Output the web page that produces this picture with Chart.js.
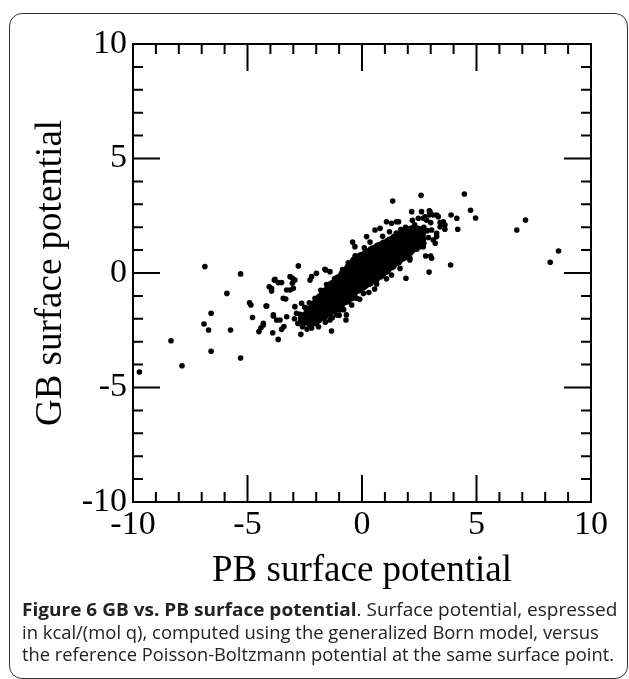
<!DOCTYPE html>
<html>
<head>
<meta charset="utf-8">
<script src="https://cdn.jsdelivr.net/npm/chart.js@4.4.1/dist/chart.umd.min.js"></script>
<style>
  body { margin: 0; background: #fff; }
  #page { position: relative; width: 629px; height: 679px; overflow: hidden; background: #fff; }
  #frame { position: absolute; left: 9px; top: 13px; width: 617px; height: 664px; border: 1.5px solid #333; border-radius: 13px; }
  #chart { position: absolute; left: 0; top: 0; }
  #caption { position: absolute; left: 22px; top: 598px; font-family: 'Open Sans', sans-serif; font-size: 18px; line-height: 22.5px; color: #222; }
  #caption div { white-space: nowrap; transform-origin: left center; width: max-content; }
</style>
</head>
<body>
<div id="page">
  <div id="frame"></div>
  <canvas id="chart" width="629" height="610"></canvas>
  <div id="caption">
    <div data-w="595"><b>Figure 6 GB vs. PB surface potential</b>. Surface potential, espressed</div>
    <div data-w="577">in kcal/(mol q), computed using the generalized Born model, versus</div>
    <div data-w="592">the reference Poisson-Boltzmann potential at the same surface point.</div>
  </div>
</div>
<script>
const axisMin = -10;
const axisMax = 10;
const majorTicks = [-10, -5, 0, 5, 10];
const minorTicks = [-9, -8, -7, -6, -4, -3, -2, -1, 1, 2, 3, 4, 6, 7, 8, 9];
const xTitle = 'PB surface potential';
const yTitle = 'GB surface potential';

// dense, saturated middle of the cloud: [PB, GB]
const corePoints = [
  [-2.5, -2.0],
  [-2.25, -2.05], [-2.25, -1.7],
  [-2.0, -1.95], [-2.0, -1.7], [-2.0, -1.45],
  [-1.75, -1.8], [-1.75, -1.47], [-1.75, -1.15],
  [-1.5, -1.65], [-1.5, -1.25], [-1.5, -0.88],
  [-1.25, -1.48], [-1.25, -1.03], [-1.25, -0.6],
  [-1.0, -1.3], [-1.0, -0.82], [-1.0, -0.35],
  [-0.75, -1.1], [-0.75, -0.61], [-0.75, -0.12],
  [-0.5, -0.95], [-0.5, -0.4], [-0.5, 0.15],
  [-0.25, -0.62], [-0.25, -0.08], [-0.25, 0.46],
  [0, -0.48], [0, 0.07], [0, 0.62],
  [0.25, -0.33], [0.25, 0.22], [0.25, 0.77],
  [0.5, -0.2], [0.5, 0.36], [0.5, 0.92],
  [0.75, 0.0], [0.75, 0.52], [0.75, 1.05],
  [1.0, 0.2], [1.0, 0.69], [1.0, 1.17],
  [1.25, 0.4], [1.25, 0.86], [1.25, 1.3],
  [1.5, 0.6], [1.5, 1.02], [1.5, 1.45],
  [1.75, 0.8], [1.75, 1.2], [1.75, 1.6],
  [2.0, 1.0], [2.0, 1.37], [2.0, 1.75],
  [2.25, 1.2], [2.25, 1.5], [2.25, 1.8],
  [2.5, 1.45], [2.5, 1.75],
];

// individual surface points around the core and the outliers: [PB, GB]
const scatterPoints = [
  [1.34, 3.14], [2.58, 3.39], [4.47, 3.45], [4.74, 2.74], [4.96, 2.4], [3.89, 2.53], [4.14, 2.39],
  [4.18, 1.91], [7.14, 2.31], [6.76, 1.88], [8.58, 0.96], [8.22, 0.47], [3.87, 0.35], [2.93, 0.04],
  [1.92, -0.23], [2.78, 0.74], [3.0, 0.74], [3.04, 0.64], [3.62, 2.1], [3.62, 1.91], [3.41, 2.2],
  [3.26, 2.53], [2.94, 2.72], [2.6, 2.68], [2.17, 2.68], [2.94, 2.53], [2.68, 2.39], [2.46, 2.39],
  [1.6, 2.24], [2.09, 0.64], [2.53, 1.15], [2.68, 1.15], [3.11, 1.44], [3.26, 1.73], [3.04, 1.88],
  [-6.86, 0.28], [-5.3, -0.04], [-5.9, -0.89], [-6.59, -1.76], [-6.9, -2.23], [-6.7, -2.49],
  [-5.74, -2.49], [-8.34, -2.96], [-6.59, -3.42], [-5.3, -3.71], [-7.86, -4.05], [-9.72, -4.32],
  [-4.91, -1.3], [-4.85, -1.4], [-4.78, -1.94], [-4.5, -2.56], [-4.41, -2.39], [-4.31, -2.27],
  [-4.19, -1.44], [-4.05, -0.6], [-3.95, -0.79], [-3.83, -0.31], [-3.66, -0.42], [-3.51, -0.42],
  [-3.87, -1.88], [-3.73, -2.05], [-3.66, -2.9], [-3.9, -2.61], [-3.51, -2.46], [-3.41, -2.34],
  [-3.29, -1.91], [-3.33, -1.14], [-3.14, -0.74], [-3.04, -0.45], [-2.78, 0.31], [-2.67, -2.68],
  [-1.33, -2.53], [-0.7, -2.05], [-3.14, -0.16], [-2.93, -0.31], [-2.2, -0.16], [-1.99, -0.01],
  [-1.58, 0.13], [-0.41, 1.35], [-0.31, 1.15], [2.97, 2.68], [3.11, 2.53], [3.33, 2.46], [3.55, 2.24],
  [0.64, -0.48], [1.07, -0.25], [0.06, -0.89], [-0.23, -1.1], [-0.59, -1.25], [-0.68, -1.83],
  [-0.96, -1.62], [-1.11, -1.83], [-1.4, -2.05], [-1.76, -1.91], [-2.05, -2.2], [-2.27, -2.27],
  [-3.8, -0.28], [-3.03, -0.23], [-3.95, -0.67], [-3.29, -0.74], [-3.0, -0.67], [-3.44, -1.1],
  [-4.16, -1.44], [-4.31, -2.2], [-3.87, -1.83], [-3.58, -2.05], [-2.86, -1.76], [-2.93, -1.47],
  [-2.64, -1.32], [-2.27, -0.31], [-1.62, 0.16], [-1.4, 0.06], [1.07, 2.24], [1.29, 2.17],
  [1.51, 2.24], [0.79, 1.95], [0.57, 1.88], [0.2, 1.59], [1.66, 0.2], [1.29, -0.09], [2.09, 0.57],
  [2.82, 2.31], [3.26, 1.59], [3.41, 2.02], [2.3, 2.1], [2.45, 1.95], [2.7, 2.0], [2.85, 1.85],
  [2.6, 1.6], [2.9, 1.55], [3.0, 2.2], [2.2, 2.3], [1.9, 2.0], [1.7, 1.9], [2.75, 2.45], [3.2, 1.3],
  [2.4, 1.05], [2.7, 1.3], [-2.6, -2.35], [-2.4, -2.45], [-2.2, -2.4], [-2.8, -2.2], [-2.95, -2.0],
  [-2.7, -1.8], [-2.5, -1.5], [-2.3, -1.3], [-2.05, -1.1], [-1.8, -0.75], [-1.55, -0.5], [-1.9, -2.35],
  [-1.6, -2.15], [-1.3, -1.95], [-1.0, -1.85], [-0.8, -1.6], [-0.45, -1.4], [-0.1, -1.15], [0.3, -0.85],
  [0.55, -0.7], [-1.2, -0.25], [-0.85, 0.15], [-0.6, 0.45], [-0.3, 0.75], [0.1, 1.1], [0.35, 1.35],
  [0.9, 1.6], [1.2, 1.8], [1.5, 1.75],
];

const serif = 'Liberation Serif';

// Chart.js only draws outward ticks, so the box and the inward ticks are drawn here.
const frameTicksPlugin = {
  id: 'frameTicks',
  afterDatasetsDraw: (chart) => {
    const { ctx, chartArea, scales } = chart;
    const { left, right, top, bottom } = chartArea;
    ctx.save();
    ctx.strokeStyle = '#000';
    ctx.lineWidth = 2;
    ctx.beginPath();
    const tick = (value, len) => {
      const px = scales.x.getPixelForValue(value);
      const py = scales.y.getPixelForValue(value);
      ctx.moveTo(px, bottom); ctx.lineTo(px, bottom - len);
      ctx.moveTo(px, top); ctx.lineTo(px, top + len);
      ctx.moveTo(left, py); ctx.lineTo(left + len, py);
      ctx.moveTo(right, py); ctx.lineTo(right - len, py);
    };
    majorTicks.forEach((v) => tick(v, 27));
    minorTicks.forEach((v) => tick(v, 10));
    ctx.stroke();
    ctx.strokeRect(left, top, right - left, bottom - top);
    ctx.restore();
  },
};

const toXY = (pts) => pts.map(([x, y]) => ({ x, y }));

new Chart(document.getElementById('chart'), {
  type: 'scatter',
  data: {
    datasets: [
      {
        data: toXY(corePoints),
        pointRadius: 7,
        pointBorderWidth: 0,
        backgroundColor: '#000',
        borderColor: '#000',
      },
      {
        data: toXY(scatterPoints),
        pointRadius: 2.8,
        pointBorderWidth: 0,
        backgroundColor: '#000',
        borderColor: '#000',
      },
    ],
  },
  options: {
    responsive: false,
    animation: false,
    events: [],
    layout: { padding: { left: 0, top: 44, right: 38, bottom: 17 } },
    plugins: { legend: { display: false }, tooltip: { enabled: false } },
    scales: {
      x: {
        type: 'linear',
        min: axisMin,
        max: axisMax,
        grid: { display: false, drawTicks: false },
        border: { display: false },
        ticks: {
          stepSize: 5,
          padding: 3,
          color: '#000',
          font: { family: serif, size: 34 },
          maxRotation: 0,
        },
        title: {
          display: true,
          text: xTitle,
          color: '#000',
          font: { family: serif, size: 37, lineHeight: 1.2 },
          padding: { top: 0, bottom: 0 },
        },
        afterFit: (scale) => { scale.height = 91; },
      },
      y: {
        type: 'linear',
        min: axisMin,
        max: axisMax,
        grid: { display: false, drawTicks: false },
        border: { display: false },
        ticks: {
          stepSize: 5,
          padding: 6,
          color: '#000',
          font: { family: serif, size: 34 },
        },
        title: {
          display: true,
          text: yTitle,
          color: '#000',
          font: { family: serif, size: 37, lineHeight: 1.2 },
          padding: { top: 29, bottom: 0 },
        },
        afterFit: (scale) => { scale.width = 133; },
      },
    },
  },
  plugins: [frameTicksPlugin],
});

// squeeze each caption line to the width it has in the figure
document.querySelectorAll('#caption div').forEach((line) => {
  const target = Number(line.dataset.w);
  line.style.transform = `scaleX(${target / line.offsetWidth})`;
});
</script>
</body>
</html>
